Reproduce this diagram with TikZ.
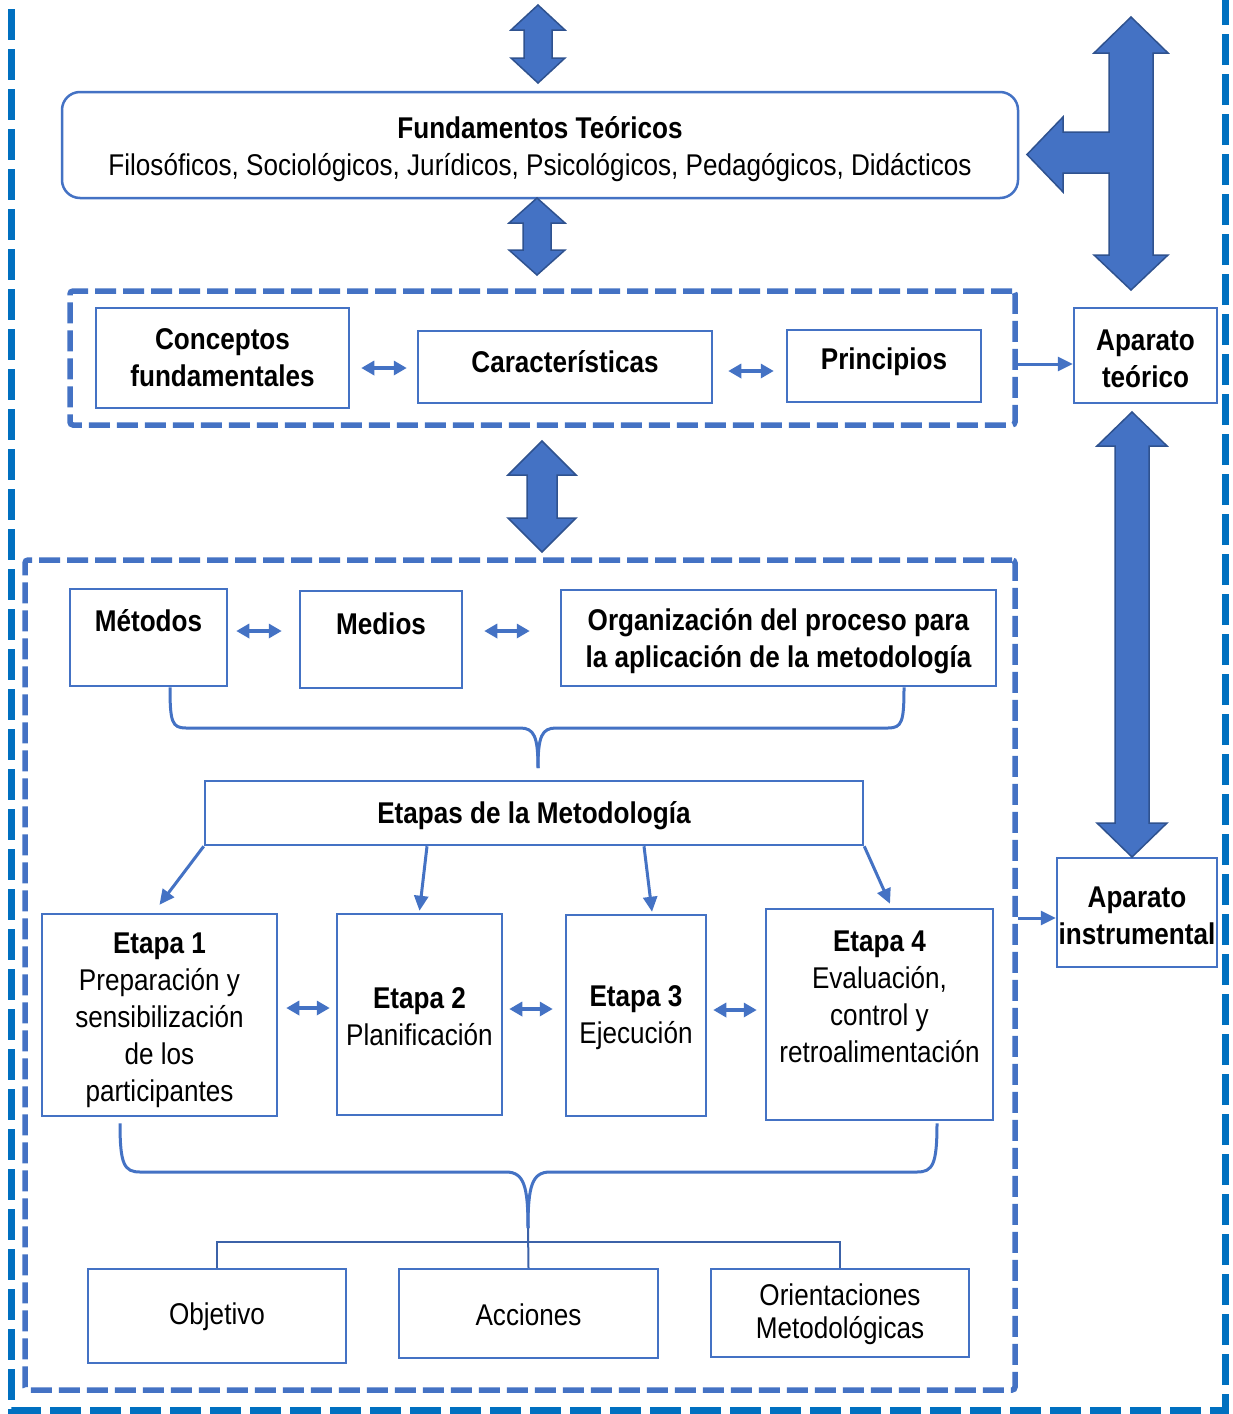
\documentclass[tikz,border=0pt]{standalone}
\usepackage{fontspec}
\setmainfont{Liberation Sans}[FakeStretch=0.87]
\usetikzlibrary{arrows.meta,calc}
\definecolor{bl}{HTML}{4472C4}
\definecolor{bldark}{HTML}{2F528F}
\definecolor{outerbl}{HTML}{0070C0}
\definecolor{treecol}{HTML}{3C62A8}
\newcommand\mainsz{\fontsize{30}{37}\selectfont}
\newcommand\vblockarrow[6]{%
  \filldraw[blockarrow] (#1,#2) -- ({#1+#4},{#2+#6}) -- ({#1+#5},{#2+#6}) -- ({#1+#5},{#3-#6}) -- ({#1+#4},{#3-#6}) -- (#1,#3) -- ({#1-#4},{#3-#6}) -- ({#1-#5},{#3-#6}) -- ({#1-#5},{#2+#6}) -- ({#1-#4},{#2+#6}) -- cycle;}
\begin{document}
\begin{tikzpicture}[x=1pt,y=-1pt,
  box/.style={draw=bl,line width=2.5pt,fill=white,inner sep=0pt,align=center,font=\mainsz},
  txt/.style={inner sep=0pt,align=center,font=\mainsz},
  grpbox/.style={draw=bl,line width=5.5pt,dash pattern=on 21pt off 7pt,rounded corners=3pt,inner sep=0pt},
  outerdash/.style={draw=outerbl,line width=7pt,dash pattern=on 31pt off 9pt},
  blockarrow/.style={fill=bl,draw=bldark,line width=1.5pt,line join=miter},
  conn/.style={draw=bl,line width=3pt,-{Triangle[length=15pt,width=14pt]}},
  dbl/.style={draw=bl,line width=3.5pt,{Triangle[length=13pt,width=14pt]}-{Triangle[length=13pt,width=14pt]}},
  bracestyle/.style={draw=bl,line width=3pt},
  tree/.style={draw=treecol,line width=2pt}
]
\useasboundingbox (0,0) rectangle (1232,1414);
\fill[white] (0,0) rectangle (1232,1414);

% outer border
\draw[outerdash] (11,-31) -- (11,1410) -- (1225,1410) -- (1225,-31);

% group boxes
\node[grpbox,minimum width=945,minimum height=134] (grp1) at (542.5,358) {};
\node[grpbox,minimum width=990,minimum height=830] (grp2) at (520,975) {};

% Fundamentos
\node[box,rounded corners=18pt,minimum width=956,minimum height=106] (fund) at (540,145) {};
\node[txt] (fundt) at (540,149) {\textbf{Fundamentos Teóricos}\\Filosóficos, Sociológicos, Jurídicos, Psicológicos, Pedagógicos, Didácticos};

% row 1
\node[box,minimum width=253,minimum height=100] (conc) at (222.5,358) {};
\node[txt] (conct) at (222.5,358) {\textbf{Conceptos}\\\textbf{fundamentales}};
\node[box,minimum width=294,minimum height=72] (car) at (565,367) {};
\node[txt] (cart) at (565,362) {\textbf{Características}};
\node[box,minimum width=194,minimum height=72] (princ) at (884,366) {};
\node[txt] (princt) at (884,362) {\textbf{Principios}};

% right boxes
\node[box,minimum width=143,minimum height=95] (apt) at (1145.5,355.5) {};
\node[txt] (aptt) at (1145.5,359) {\textbf{Aparato}\\\textbf{teórico}};
\node[box,minimum width=160,minimum height=109] (api) at (1137,912.5) {};
\node[txt] (apit) at (1137,916) {\textbf{Aparato}\\\textbf{instrumental}};

% row 2
\node[box,minimum width=157,minimum height=97] (met) at (148.5,637.5) {};
\node[txt] (mett) at (148.5,621) {\textbf{Métodos}};
\node[box,minimum width=162,minimum height=97] (med) at (381,639.5) {};
\node[txt] (medt) at (381,624) {\textbf{Medios}};
\node[box,minimum width=435,minimum height=96] (org) at (778.5,638) {};
\node[txt] (orgt) at (778.5,641) {\textbf{Organización del proceso para}\\\textbf{la aplicación de la metodología}};

% etapas
\node[box,minimum width=658,minimum height=64] (etapas) at (534,813) {};
\node[txt] (etapast) at (534,816) {\textbf{Etapas de la Metodología}};
\node[box,minimum width=235,minimum height=202] (e1) at (159.5,1015) {};
\node[txt] (e1t) at (159.5,1020) {\textbf{Etapa 1}\\Preparación y\\sensibilización\\de los\\participantes};
\node[box,minimum width=165,minimum height=201] (e2) at (419.5,1014.5) {};
\node[txt] (e2t) at (419.5,1017) {\textbf{Etapa 2}\\Planificación};
\node[box,minimum width=140,minimum height=201] (e3) at (636,1015.5) {};
\node[txt] (e3t) at (636,1018) {\textbf{Etapa 3}\\Ejecución};
\node[box,minimum width=227,minimum height=211] (e4) at (879.5,1014.5) {};
\node[txt] (e4t) at (879.5,997) {\textbf{Etapa 4}\\Evaluación,\\control y\\retroalimentación};

% bottom
\node[box,minimum width=258,minimum height=94] (obj) at (217,1316) {};
\node[txt] (objt) at (217,1317) {Objetivo};
\node[box,minimum width=259,minimum height=89] (acc) at (528.5,1313.5) {};
\node[txt] (acct) at (528.5,1315) {Acciones};
\node[box,minimum width=258,minimum height=88] (ori) at (840,1313) {};
\node[txt,font=\fontsize{30}{33}\selectfont] (orit) at (840,1314) {Orientaciones\\Metodológicas};

% block arrows
\vblockarrow{538}{5}{83}{27}{14}{25}
\vblockarrow{537}{198}{275}{28}{14}{25}
\vblockarrow{542}{441}{552}{34}{15}{34}
\vblockarrow{1132}{412}{857}{35}{17}{34}
\filldraw[blockarrow] (1131,17) -- (1168,53) -- (1153,53) -- (1153,255) -- (1168,255) -- (1131,290) -- (1094,255) -- (1109,255) -- (1109,173) -- (1063,173) -- (1063,192) -- (1027,154.5) -- (1063,117) -- (1063,132) -- (1109,132) -- (1109,53) -- (1094,53) -- cycle;

% connectors to the right boxes
\draw[conn] (grp1.east |- 0,364) -- (apt.west |- 0,364);
\draw[conn] (grp2.east |- 0,918) -- (api.west |- 0,918);

% small double arrows
\draw[dbl,shorten <=11pt,shorten >=10pt] (conc.east |- 0,368) -- (car.west |- 0,368);
\draw[dbl,shorten <=15pt,shorten >=12pt] (car.east |- 0,371) -- (princ.west |- 0,371);
\draw[dbl,shorten <=8pt,shorten >=17pt] (met.east |- 0,631) -- (med.west |- 0,631);
\draw[dbl,shorten <=21pt,shorten >=30pt] (med.east |- 0,631) -- (org.west |- 0,631);
\draw[dbl,shorten <=8pt,shorten >=6pt] (e1.east |- 0,1008) -- (e2.west |- 0,1008);
\draw[dbl,shorten <=6pt,shorten >=12pt] (e2.east |- 0,1009) -- (e3.west |- 0,1009);
\draw[dbl,shorten <=6pt,shorten >=8pt] (e3.east |- 0,1010) -- (e4.west |- 0,1010);

% stage arrows
\draw[conn] (etapas.south west) -- ([yshift=8pt]e1.north);
\draw[conn] (etapas.south -| 427,0) -- ([yshift=2pt]e2.north);
\draw[conn] (etapas.south -| 644,0) -- ([yshift=2pt]e3.north -| 652,0);
\draw[conn] (etapas.south east) -- ([yshift=4pt]e4.north -| 890,0);

% brace 1
\coordinate (b1tip) at (538,768);
\draw[bracestyle] (met.south -| 170,0) .. controls (170,722) and (172,728) .. (186,728) -- (520,728) .. controls (534,728) and (538,736) .. (b1tip);
\draw[bracestyle] (org.south -| 904,0) .. controls (904,722) and (902,728) .. (888,728) -- (556,728) .. controls (542,728) and (538,736) .. (b1tip);

% brace 2
\coordinate (b2tip) at (528,1228);
\draw[bracestyle] (e1.south -| 120,0) ++(0,6) .. controls (120,1164) and (124,1172) .. (140,1172) -- (506,1172) .. controls (524,1172) and (528,1186) .. (b2tip);
\draw[bracestyle] (e4.south -| 937,0) ++(0,2) .. controls (937,1164) and (933,1172) .. (917,1172) -- (550,1172) .. controls (532,1172) and (528,1186) .. (b2tip);

% tree
\coordinate (tj) at (528,1242);
\draw[tree] (obj.north) |- (tj) -| (ori.north);
\draw[tree] (b2tip) -- (acc.north);
\end{tikzpicture}
\end{document}
